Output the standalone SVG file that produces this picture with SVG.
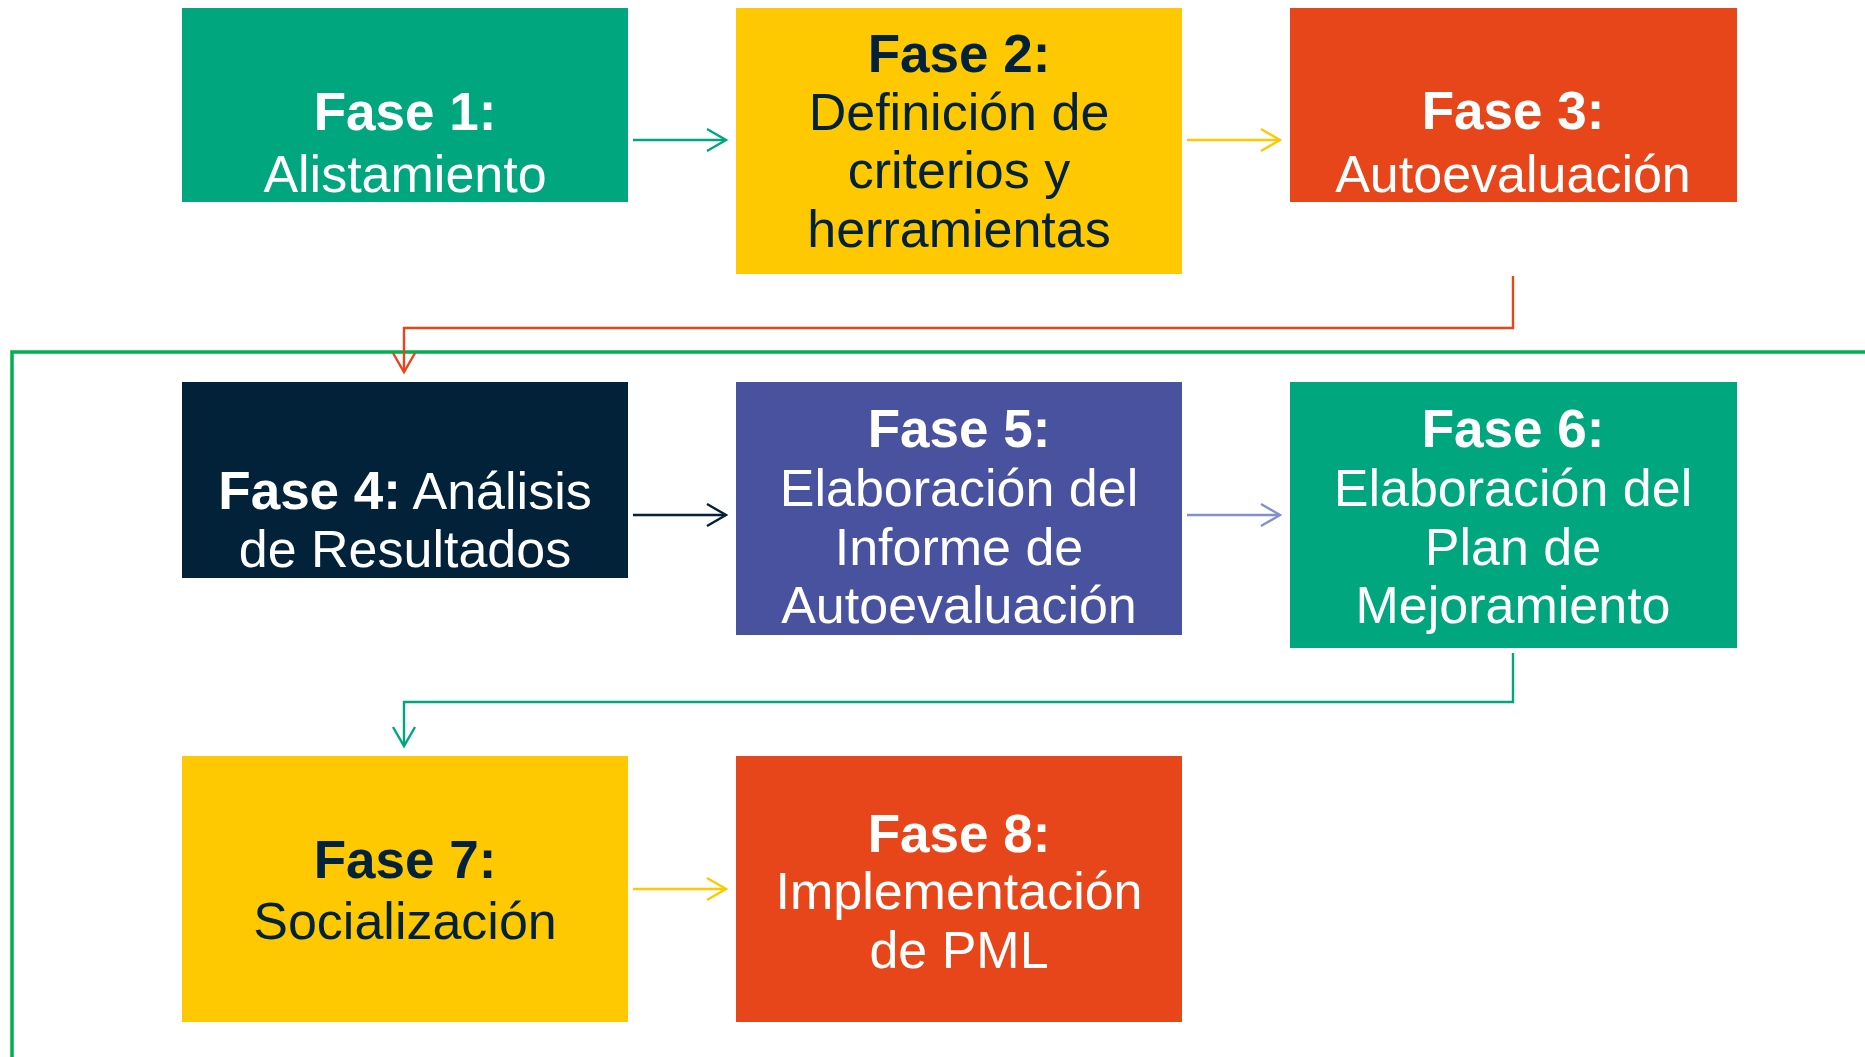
<svg xmlns="http://www.w3.org/2000/svg" width="1865" height="1057" viewBox="0 0 1865 1057">
<style>
text{font-family:"Liberation Sans",Arial,sans-serif;font-size:52px;text-anchor:middle}
.b{font-weight:bold;font-size:53px}
.w{fill:#ffffff}
.d{fill:#012238}
.c{fill:none;stroke-width:2.4}
</style>
<defs>
<marker id="mg" viewBox="-21 -13 24 26" refX="0" refY="0" markerWidth="24" markerHeight="26" markerUnits="userSpaceOnUse" orient="auto"><path d="M-19,-11 L0,0 L-19,11" fill="none" stroke="#00a67e" stroke-width="2.4"/></marker>
<marker id="my" viewBox="-21 -13 24 26" refX="0" refY="0" markerWidth="24" markerHeight="26" markerUnits="userSpaceOnUse" orient="auto"><path d="M-19,-11 L0,0 L-19,11" fill="none" stroke="#fec900" stroke-width="2.4"/></marker>
<marker id="mo" viewBox="-21 -13 24 26" refX="0" refY="0" markerWidth="24" markerHeight="26" markerUnits="userSpaceOnUse" orient="auto"><path d="M-19,-11 L0,0 L-19,11" fill="none" stroke="#e7461a" stroke-width="2.4"/></marker>
<marker id="mn" viewBox="-21 -13 24 26" refX="0" refY="0" markerWidth="24" markerHeight="26" markerUnits="userSpaceOnUse" orient="auto"><path d="M-19,-11 L0,0 L-19,11" fill="none" stroke="#012238" stroke-width="2.4"/></marker>
<marker id="mp" viewBox="-21 -13 24 26" refX="0" refY="0" markerWidth="24" markerHeight="26" markerUnits="userSpaceOnUse" orient="auto"><path d="M-19,-11 L0,0 L-19,11" fill="none" stroke="#8290cc" stroke-width="2.4"/></marker>
</defs>
<rect width="1865" height="1057" fill="#ffffff"/>
<g id="connectors">
<path d="M12,1057 V352 H1865" fill="none" stroke="#00b050" stroke-width="3.5"/>
<path class="c" d="M633,140 H726" stroke="#00a67e" marker-end="url(#mg)"/>
<path class="c" d="M1187,140 H1280" stroke="#fec900" marker-end="url(#my)"/>
<path class="c" d="M1513,276 V328 H404 V372" stroke="#e7461a" marker-end="url(#mo)"/>
<path class="c" d="M633,515 H726" stroke="#012238" marker-end="url(#mn)"/>
<path class="c" d="M1187,515 H1280" stroke="#8290cc" marker-end="url(#mp)"/>
<path class="c" d="M1513,653 V702 H404 V746" stroke="#00a67e" marker-end="url(#mg)"/>
<path class="c" d="M633,889 H726" stroke="#fec900" marker-end="url(#my)"/>
</g>
<g id="fase1">
<rect x="182" y="8" width="446" height="194" fill="#00a67e"/>
<text x="405" y="130" class="b w">Fase 1:</text>
<text x="405" y="192" class="w">Alistamiento</text>
</g>
<g id="fase2">
<rect x="736" y="8" width="446" height="266" fill="#fec900"/>
<text x="959" y="72" class="b d">Fase 2:</text>
<text x="959" y="130" class="d">Definición de</text>
<text x="959" y="188" class="d">criterios y</text>
<text x="959" y="247" class="d">herramientas</text>
</g>
<g id="fase3">
<rect x="1290" y="8" width="447" height="194" fill="#e7461a"/>
<text x="1513" y="129" class="b w">Fase 3:</text>
<text x="1513" y="192" class="w">Autoevaluación</text>
</g>
<g id="fase4">
<rect x="182" y="382" width="446" height="196" fill="#012238"/>
<text x="405" y="509" class="w"><tspan class="b">Fase 4:</tspan> Análisis</text>
<text x="405" y="567" class="w">de Resultados</text>
</g>
<g id="fase5">
<rect x="736" y="382" width="446" height="253" fill="#48529f"/>
<text x="959" y="447" class="b w">Fase 5:</text>
<text x="959" y="506" class="w">Elaboración del</text>
<text x="959" y="565" class="w">Informe de</text>
<text x="959" y="623" class="w">Autoevaluación</text>
</g>
<g id="fase6">
<rect x="1290" y="382" width="447" height="266" fill="#00a67e"/>
<text x="1513" y="447" class="b w">Fase 6:</text>
<text x="1513" y="506" class="w">Elaboración del</text>
<text x="1513" y="565" class="w">Plan de</text>
<text x="1513" y="623" class="w">Mejoramiento</text>
</g>
<g id="fase7">
<rect x="182" y="756" width="446" height="266" fill="#fec900"/>
<text x="405" y="878" class="b d">Fase 7:</text>
<text x="405" y="939" class="d">Socialización</text>
</g>
<g id="fase8">
<rect x="736" y="756" width="446" height="266" fill="#e7461a"/>
<text x="959" y="852" class="b w">Fase 8:</text>
<text x="959" y="909" class="w">Implementación</text>
<text x="959" y="968" class="w">de PML</text>
</g>
</svg>
